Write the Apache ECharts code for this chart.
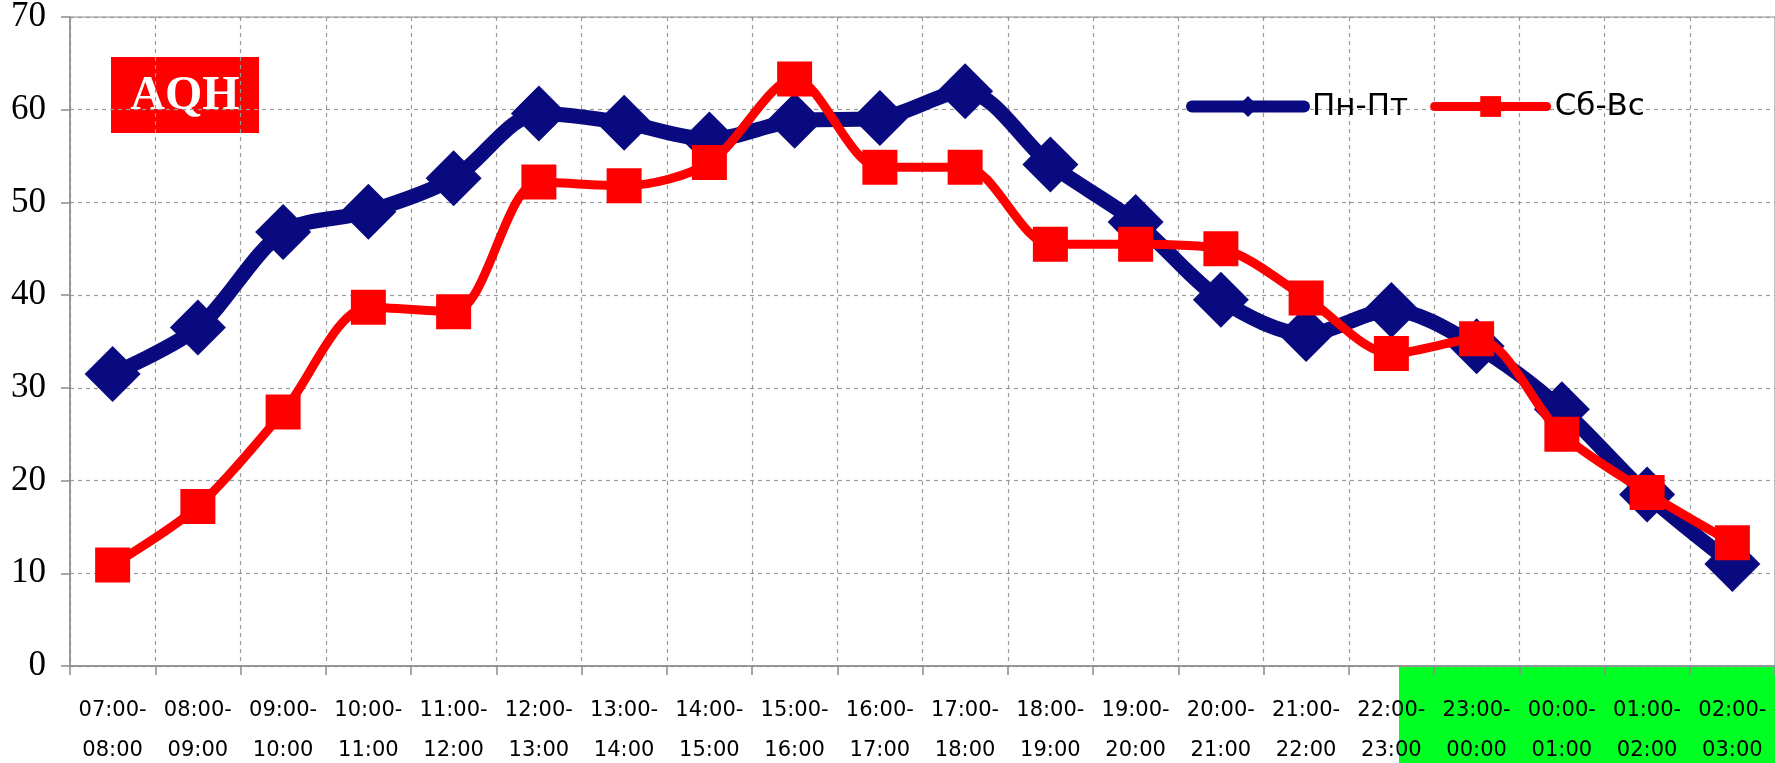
<!DOCTYPE html>
<html>
<head>
<meta charset="utf-8">
<script src="https://cdn.jsdelivr.net/npm/echarts@6/dist/echarts.min.js"></script>
<style>
  html, body { margin: 0; padding: 0; background: #ffffff; }
  #chart { width: 1775px; height: 763px; }
</style>
</head>
<body>
<div id="chart"></div>
<script>
// Hourly time slots (start-end)
const slotStarts = ['07:00', '08:00', '09:00', '10:00', '11:00', '12:00', '13:00', '14:00', '15:00', '16:00',
                    '17:00', '18:00', '19:00', '20:00', '21:00', '22:00', '23:00', '00:00', '01:00', '02:00'];
const slotEnds   = ['08:00', '09:00', '10:00', '11:00', '12:00', '13:00', '14:00', '15:00', '16:00', '17:00',
                    '18:00', '19:00', '20:00', '21:00', '22:00', '23:00', '00:00', '01:00', '02:00', '03:00'];
const categories = slotStarts.map((s, i) => s + '-\n' + slotEnds[i]);

// Average quarter-hour audience
const weekdayName = 'Пн-Пт';
const weekdayValues = [31.5, 36.5, 46.8, 49.0, 52.6, 59.6, 58.6, 56.8, 58.8, 59.1,
                       62.0, 54.1, 47.9, 39.5, 35.8, 38.4, 34.5, 27.7, 18.5, 11.0];
const weekendName = 'Сб-Вс';
const weekendValues = [10.9, 17.2, 27.4, 38.7, 38.2, 52.2, 51.8, 54.3, 63.3, 53.8,
                       53.8, 45.5, 45.5, 45.0, 39.7, 33.7, 35.3, 25.0, 18.7, 13.3];

const yTicks = { min: 0, max: 70, interval: 10 };
const badgeText = 'AQH';

const NAVY = '#0a0a80';
const RED = '#ff0000';
const GRID_GRAY = '#9a9a9a';
const AXIS_GRAY = '#8c8c8c';

const chart = echarts.init(document.getElementById('chart'), null, { renderer: 'canvas' });

chart.setOption({
  backgroundColor: '#ffffff',
  animation: false,
  grid: {
    left: 70, right: 0, top: 17, bottom: 97,
    show: true, borderColor: AXIS_GRAY, borderWidth: 1,
    outerBoundsMode: 'none'
  },
  legend: {
    left: 1181, top: 86,
    itemWidth: 112, itemHeight: 26, itemGap: 22,
    textStyle: { fontFamily: 'DejaVu Sans', fontSize: 31, color: '#000', padding: [0, 0, 0, 3] },
    data: [
      { name: weekdayName, lineStyle: { width: 12, cap: 'round' } },
      { name: weekendName, lineStyle: { width: 9, cap: 'round' } }
    ]
  },
  xAxis: {
    type: 'category',
    data: categories,
    boundaryGap: true,
    axisLine: { lineStyle: { color: AXIS_GRAY, width: 1.5 } },
    axisTick: { show: true, length: 9, lineStyle: { color: AXIS_GRAY, width: 1.5 } },
    axisLabel: {
      interval: 0, margin: 25,
      fontFamily: 'DejaVu Sans', fontSize: 21, lineHeight: 40, color: '#000'
    },
    splitLine: { show: true, lineStyle: { color: GRID_GRAY, type: [4, 4], width: 1.2 } }
  },
  yAxis: {
    type: 'value',
    min: yTicks.min, max: yTicks.max, interval: yTicks.interval,
    axisLine: { show: true, lineStyle: { color: AXIS_GRAY, width: 1.5 } },
    axisTick: { show: true, length: 9, lineStyle: { color: AXIS_GRAY, width: 1.5 } },
    axisLabel: { margin: 24, fontFamily: 'Liberation Serif', fontSize: 35, color: '#000' },
    splitLine: { show: true, lineStyle: { color: GRID_GRAY, type: [4, 4], width: 1.2 } }
  },
  series: [
    {
      name: weekdayName,
      type: 'line',
      data: weekdayValues,
      smooth: 0.3,
      symbol: 'diamond',
      symbolSize: 56,
      lineStyle: { color: NAVY, width: 15 },
      itemStyle: { color: NAVY },
      z: 2
    },
    {
      name: weekendName,
      type: 'line',
      data: weekendValues,
      smooth: 0.3,
      symbol: 'rect',
      symbolSize: 35,
      lineStyle: { color: RED, width: 9 },
      itemStyle: { color: RED },
      z: 3
    }
  ],
  graphic: [
    {
      // highlighted night slots under the axis
      type: 'rect', z: -10,
      shape: { x: 1399, y: 667, width: 376, height: 96 },
      style: { fill: '#00ff22' }
    },
    {
      type: 'group', left: 111, top: 57, z: 10,
      children: [
        { type: 'rect', shape: { x: 0, y: 0, width: 148, height: 76 }, style: { fill: RED } },
        {
          type: 'text', x: 74, y: 40,
          style: {
            text: badgeText, fill: '#ffffff', font: 'bold 48px "Liberation Serif"',
            align: 'center', verticalAlign: 'middle'
          }
        }
      ]
    }
  ]
});
</script>
</body>
</html>
